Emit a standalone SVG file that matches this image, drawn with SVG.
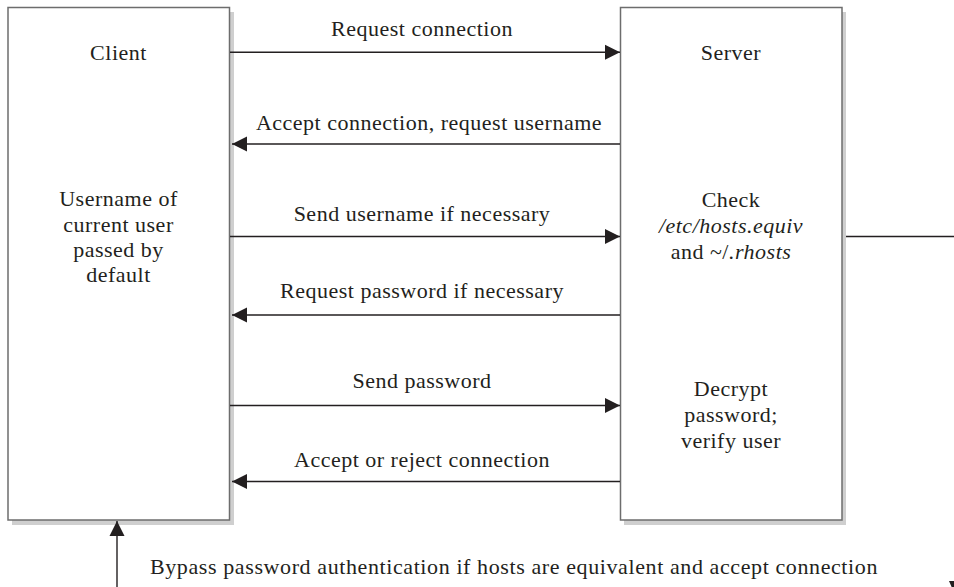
<svg xmlns="http://www.w3.org/2000/svg" width="954" height="587" viewBox="0 0 954 587">
<style>
  text { font-family: "Liberation Serif", "DejaVu Serif", serif; font-size: 22px; fill: #231f20; letter-spacing: 0.5px; }
  .c { text-anchor: middle; }
  .i { font-style: italic; }
  .wide { letter-spacing: 0.6px; }
  .box { fill: #ffffff; stroke: #6d6d6d; stroke-width: 1.5; }
  .shadow { fill: #cfcfcf; }
  .ln { stroke: #231f20; stroke-width: 1.4; fill: none; }
</style>
<defs>
  <marker id="ah" markerUnits="userSpaceOnUse" markerWidth="16" markerHeight="16" viewBox="0 0 16 16" refX="15" refY="8" orient="auto">
    <path d="M0,0.5 L15,8 L0,15.5 Z" fill="#231f20"/>
  </marker>
</defs>
<g id="client">
  <rect class="shadow" x="12" y="12" width="222" height="513"/>
  <rect class="box" x="8" y="7.5" width="221.5" height="512.5"/>
  <text class="c" x="118.5" y="60">Client</text>
  <text class="c" x="118.5" y="206">Username of</text>
  <text class="c" x="118.5" y="232">current user</text>
  <text class="c" x="118.5" y="257">passed by</text>
  <text class="c" x="118.5" y="282">default</text>
</g>
<g id="server">
  <rect class="shadow" x="624" y="12" width="222" height="513"/>
  <rect class="box" x="620.5" y="7.5" width="221.5" height="512.5"/>
  <text class="c" x="731" y="60">Server</text>
  <text class="c" x="731" y="207">Check</text>
  <text class="c i" x="731" y="233">/etc/hosts.equiv</text>
  <text class="c" x="731" y="259">and ~/<tspan class="i">.rhosts</tspan></text>
  <text class="c" x="731" y="396">Decrypt</text>
  <text class="c" x="731" y="422">password;</text>
  <text class="c" x="731" y="448">verify user</text>
</g>
<g id="connectors">
  <line class="ln" x1="230" y1="52.3" x2="620" y2="52.3" marker-end="url(#ah)"/>
  <line class="ln" x1="620" y1="144" x2="232" y2="144" marker-end="url(#ah)"/>
  <line class="ln" x1="230" y1="236.5" x2="620" y2="236.5" marker-end="url(#ah)"/>
  <line class="ln" x1="620" y1="315" x2="232" y2="315" marker-end="url(#ah)"/>
  <line class="ln" x1="230" y1="405.5" x2="620" y2="405.5" marker-end="url(#ah)"/>
  <line class="ln" x1="620" y1="481.5" x2="232" y2="481.5" marker-end="url(#ah)"/>
  <line class="ln" x1="846" y1="236.5" x2="954" y2="236.5"/>
  <line class="ln" x1="117" y1="587" x2="117" y2="521" marker-end="url(#ah)"/>
  <polygon points="949,581 963,581 956,597" fill="#231f20"/>
  <text class="c" x="422" y="36">Request connection</text>
  <text class="c" x="429" y="130">Accept connection, request username</text>
  <text class="c" x="422" y="221">Send username if necessary</text>
  <text class="c" x="422" y="298">Request password if necessary</text>
  <text class="c" x="422" y="388">Send password</text>
  <text class="c" x="422" y="466.5">Accept or reject connection</text>
  <text class="wide" x="150" y="574">Bypass password authentication if hosts are equivalent and accept connection</text>
</g>
</svg>
